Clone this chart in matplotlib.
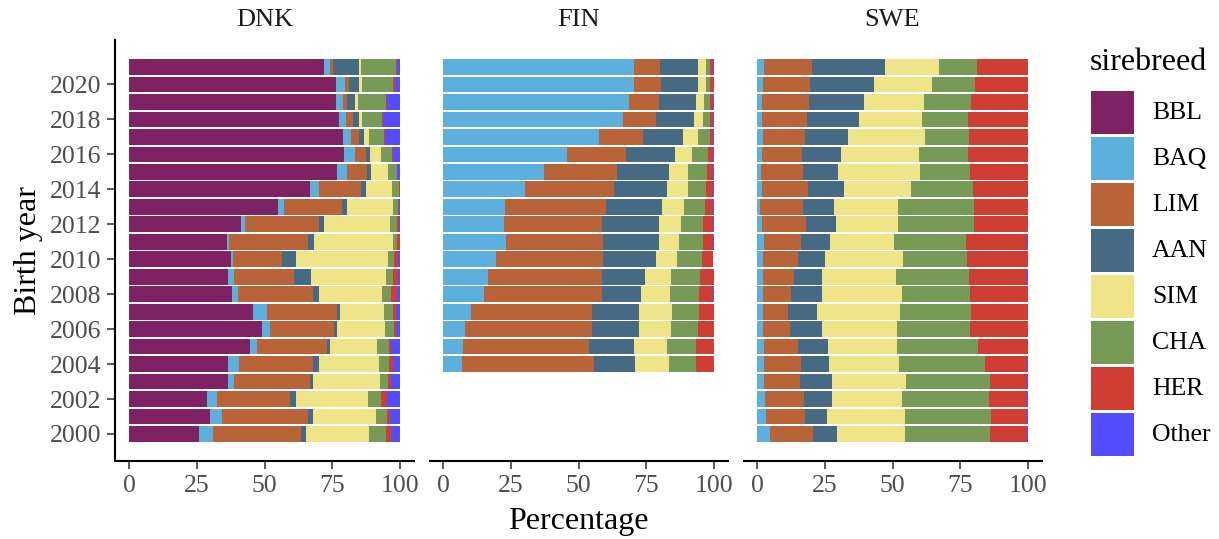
import numpy as np
import matplotlib
matplotlib.use('Agg')
import matplotlib.pyplot as plt
from matplotlib.patches import Rectangle

plt.rcParams['font.family'] = ['Liberation Serif', 'DejaVu Serif']

years = list(range(2000, 2022))
breeds = ['BBL', 'BAQ', 'LIM', 'AAN', 'SIM', 'CHA', 'HER', 'Other']
colors = ['#7F2264', '#5DAFDD', '#B96338', '#466A84', '#F0E488', '#779B57', '#CF3E34', '#534DFF']
countries = ['DNK', 'FIN', 'SWE']

# percentages per breed, birth years 2000 -> 2021
dnk_bbl = [25.8, 29.9, 28.8, 36.5, 36.5, 44.6, 49.1, 45.8, 38.0, 36.5, 37.6, 36.2, 41.3, 55.0, 66.8, 76.8, 79.3, 79.0, 77.5, 76.4, 76.4, 72.0]
dnk_baq = [5.2, 4.4, 3.7, 2.2, 4.1, 2.6, 2.9, 5.1, 2.2, 2.2, 0.8, 0.7, 1.5, 2.2, 3.3, 3.6, 4.1, 2.9, 2.6, 2.6, 3.3, 2.2]
dnk_lim = [32.5, 31.8, 26.9, 28.1, 27.3, 25.9, 23.6, 25.9, 27.7, 22.2, 18.1, 29.2, 27.3, 21.4, 15.5, 7.4, 4.1, 3.0, 2.6, 1.4, 1.5, 1.1]
dnk_aan = [1.8, 1.8, 2.2, 1.1, 2.2, 1.1, 1.2, 1.1, 2.2, 6.3, 5.1, 2.2, 1.9, 1.8, 1.9, 1.5, 1.4, 1.8, 2.2, 3.0, 3.7, 9.6]
dnk_sim = [23.3, 23.2, 26.6, 24.7, 22.2, 17.3, 17.7, 16.2, 23.3, 27.6, 34.0, 29.1, 24.3, 17.0, 9.5, 6.3, 4.1, 1.9, 1.1, 1.1, 1.1, 0.7]
dnk_cha = [6.2, 4.1, 4.8, 3.0, 3.6, 4.4, 3.3, 3.3, 3.3, 2.6, 2.2, 1.5, 2.6, 1.9, 2.6, 3.3, 4.0, 5.5, 7.4, 10.3, 11.4, 12.9]
dnk_her = [1.9, 1.1, 2.2, 1.1, 1.5, 0.8, 0.7, 1.1, 2.2, 1.9, 1.5, 1.1, 0.7, 0.3, 0.4, 0.0, 0.4, 0.4, 0.3, 0.4, 0.8, 0.5]
dnk_oth = [3.3, 3.7, 4.8, 3.3, 2.6, 3.3, 1.5, 1.5, 1.1, 0.7, 0.7, 0.0, 0.4, 0.4, 0.0, 1.1, 2.7, 5.5, 6.3, 4.8, 1.8, 1.0]

fin_bbl = [0.0] * 22
fin_baq = [0, 0, 0, 0, 7.0, 7.4, 8.1, 10.3, 15.1, 16.5, 19.5, 23.2, 22.4, 22.8, 30.1, 37.1, 45.6, 57.7, 66.5, 68.8, 70.6, 70.6]
fin_lim = [0, 0, 0, 0, 48.9, 46.6, 47.0, 44.5, 43.4, 42.0, 39.7, 36.0, 36.4, 37.5, 33.1, 27.2, 22.0, 16.2, 12.2, 11.0, 9.9, 9.5]
fin_aan = [0, 0, 0, 0, 15.1, 16.6, 17.3, 17.6, 14.7, 16.1, 19.5, 20.6, 21.0, 20.6, 19.5, 19.2, 18.1, 14.7, 13.9, 13.6, 13.6, 14.0]
fin_sim = [0, 0, 0, 0, 12.5, 12.1, 11.8, 12.2, 10.6, 9.6, 7.7, 7.3, 8.1, 8.1, 7.7, 6.9, 6.2, 5.5, 3.4, 2.9, 3.0, 3.0]
fin_cha = [0, 0, 0, 0, 9.9, 10.7, 9.9, 9.9, 10.7, 10.7, 9.2, 8.9, 8.1, 7.7, 6.7, 7.0, 5.9, 4.4, 2.5, 2.2, 1.4, 1.4]
fin_her = [0, 0, 0, 0, 6.6, 6.6, 5.9, 5.5, 5.1, 5.1, 4.0, 3.6, 3.6, 2.9, 2.5, 2.2, 1.8, 1.1, 1.1, 1.1, 1.5, 1.1]
fin_oth = [0, 0, 0, 0, 0, 0, 0, 0, 0.4, 0, 0, 0.4, 0.4, 0.4, 0.4, 0.4, 0.4, 0.4, 0.4, 0.4, 0, 0.4]

swe_bbl = [0.0] * 22
swe_baq = [4.8, 3.3, 3.0, 2.6, 2.6, 2.6, 2.2, 2.2, 2.2, 2.2, 2.2, 2.6, 1.8, 1.1, 1.8, 1.5, 1.8, 2.2, 1.8, 1.8, 2.2, 2.6]
swe_lim = [15.9, 14.4, 14.3, 13.3, 13.6, 12.5, 10.0, 9.2, 10.3, 11.5, 12.9, 13.6, 16.3, 15.9, 17.0, 15.5, 14.8, 15.5, 16.7, 17.4, 17.4, 17.7]
swe_aan = [8.8, 8.1, 10.4, 11.8, 10.4, 11.1, 11.8, 10.7, 11.5, 10.3, 10.0, 10.7, 11.1, 11.4, 13.3, 12.9, 14.4, 15.9, 19.1, 20.3, 23.6, 26.9]
swe_sim = [25.1, 28.8, 25.8, 27.3, 25.8, 25.5, 27.7, 30.7, 29.5, 27.3, 28.8, 23.7, 22.8, 23.6, 24.7, 30.2, 28.8, 28.4, 23.3, 22.1, 21.4, 20.0]
swe_cha = [31.4, 31.7, 32.1, 31.0, 31.7, 29.8, 26.9, 26.2, 25.1, 26.9, 23.6, 26.5, 28.1, 28.1, 22.9, 18.5, 18.1, 16.2, 17.0, 17.4, 15.8, 14.0]
swe_her = [13.6, 13.3, 14.0, 13.6, 15.5, 18.5, 21.4, 21.0, 21.4, 21.4, 22.5, 22.5, 19.9, 19.9, 20.3, 21.4, 22.1, 21.8, 22.1, 21.0, 19.6, 18.8]
swe_oth = [0.4, 0.4, 0.4, 0.4, 0.4, 0, 0, 0, 0, 0.4, 0, 0.4, 0, 0, 0, 0, 0, 0, 0, 0, 0, 0]

data = {
    'DNK': [dnk_bbl, dnk_baq, dnk_lim, dnk_aan, dnk_sim, dnk_cha, dnk_her, dnk_oth],
    'FIN': [fin_bbl, fin_baq, fin_lim, fin_aan, fin_sim, fin_cha, fin_her, fin_oth],
    'SWE': [swe_bbl, swe_baq, swe_lim, swe_aan, swe_sim, swe_cha, swe_her, swe_oth],
}

W, H = 1219, 539
fig = plt.figure(figsize=(W / 100, H / 100), dpi=100)

tick_col = '#4D4D4D'
panel_left = [115.5, 429.5, 743.5]
panel_w = 298
panel_top, panel_bot = 40, 461

for i, c in enumerate(countries):
    ax = fig.add_axes([panel_left[i] / W, (H - panel_bot) / H, panel_w / W, (panel_bot - panel_top) / H])
    left = np.zeros(len(years))
    for b, vals, col in zip(breeds, data[c], colors):
        vals = np.array(vals, dtype=float)
        ax.barh(years, vals, left=left, height=0.9, color=col, linewidth=0)
        left += vals
    ax.set_xlim(-5, 105)
    ax.set_ylim(1998.455, 2022.545)
    ax.set_xticks([0, 25, 50, 75, 100])
    ax.set_xticklabels(['0', '25', '50', '75', '100'])
    ax.set_yticks(range(2000, 2021, 2))
    for s in ['top', 'right']:
        ax.spines[s].set_visible(False)
    ax.spines['bottom'].set_linewidth(1.5)
    ax.spines['left'].set_linewidth(1.5)
    ax.tick_params(axis='both', labelsize=18.5, colors=tick_col, width=1.3, length=6, pad=4)
    if i > 0:
        ax.spines['left'].set_visible(False)
        ax.tick_params(axis='y', left=False, labelleft=False)
    ax.set_title(c, fontsize=19, color='#1A1A1A', pad=10)
    if i == 0:
        ax.set_ylabel('Birth year', fontsize=23, labelpad=5)
    if i == 1:
        ax.set_xlabel('Percentage', fontsize=23, labelpad=7)

# legend drawn in pixel space
lax = fig.add_axes([0, 0, 1, 1], zorder=-1)
lax.set_xlim(0, W)
lax.set_ylim(H, 0)
lax.axis('off')
lax.text(1090, 62, 'sirebreed', fontsize=23, va='center', ha='left')
for k, (b, col) in enumerate(zip(breeds, colors)):
    y0 = 91 + 46 * k
    lax.add_patch(Rectangle((1091, y0), 43, 43, color=col, linewidth=0))
    lax.text(1152, y0 + 22, b, fontsize=18.5, va='center', ha='left')

plt.savefig('out.png', dpi=100)
